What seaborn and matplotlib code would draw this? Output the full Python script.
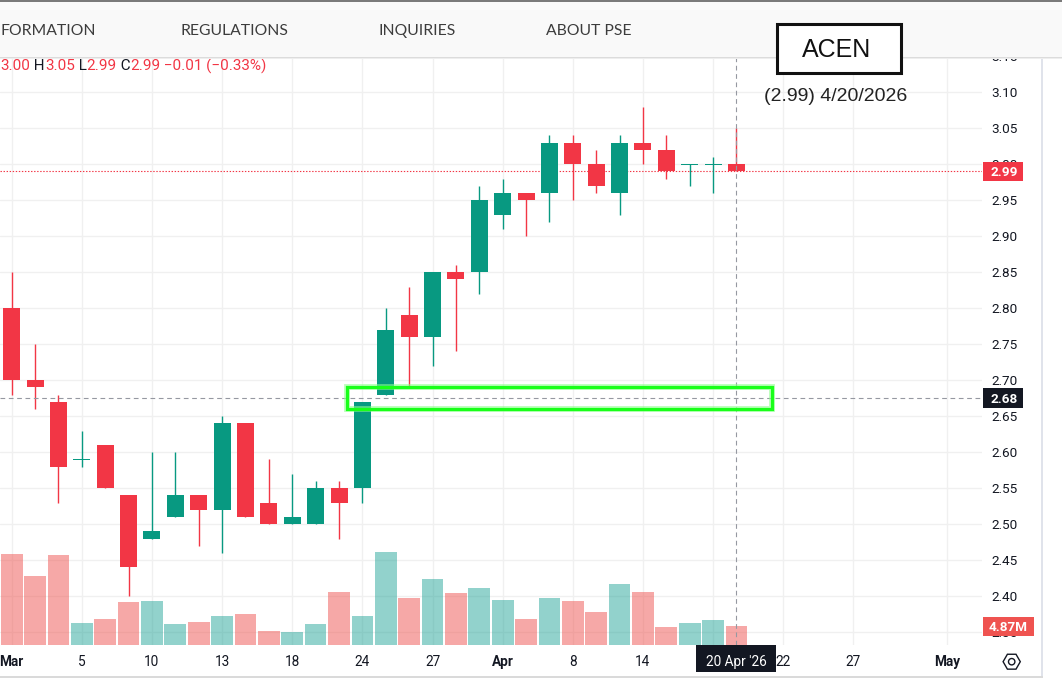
import matplotlib
matplotlib.use("Agg")
import matplotlib.pyplot as plt
import matplotlib.patches as mpatches
import numpy as np
import pandas as pd
import seaborn as sns

# ---------------- data ----------------
dates = ["2026-03-02", "2026-03-03", "2026-03-04", "2026-03-05", "2026-03-06",
         "2026-03-09", "2026-03-10", "2026-03-11", "2026-03-12", "2026-03-13",
         "2026-03-16", "2026-03-17", "2026-03-18", "2026-03-19", "2026-03-23",
         "2026-03-24", "2026-03-25", "2026-03-26", "2026-03-27", "2026-03-30",
         "2026-03-31", "2026-04-01", "2026-04-06", "2026-04-07", "2026-04-08",
         "2026-04-10", "2026-04-13", "2026-04-14", "2026-04-15", "2026-04-16",
         "2026-04-17", "2026-04-20"]
opens = [2.80, 2.70, 2.67, 2.59, 2.61, 2.54, 2.48, 2.51, 2.54, 2.52, 2.64, 2.53,
         2.50, 2.50, 2.55, 2.55, 2.68, 2.79, 2.76, 2.85, 2.85, 2.93, 2.96, 2.96,
         3.03, 3.00, 2.96, 3.03, 3.02, 3.00, 3.00, 3.00]
highs = [2.85, 2.75, 2.68, 2.63, 2.61, 2.54, 2.60, 2.60, 2.54, 2.65, 2.64, 2.59,
         2.57, 2.56, 2.56, 2.67, 2.80, 2.83, 2.85, 2.86, 2.97, 2.98, 2.96, 3.04,
         3.04, 3.02, 3.04, 3.08, 3.04, 3.00, 3.01, 3.05]
lows = [2.68, 2.66, 2.53, 2.58, 2.55, 2.40, 2.48, 2.51, 2.47, 2.46, 2.51, 2.50,
        2.50, 2.50, 2.48, 2.53, 2.68, 2.69, 2.72, 2.74, 2.82, 2.91, 2.90, 2.92,
        2.95, 2.96, 2.93, 3.00, 2.98, 2.97, 2.96, 2.99]
closes = [2.70, 2.69, 2.58, 2.59, 2.55, 2.44, 2.49, 2.54, 2.52, 2.64, 2.51, 2.50,
          2.51, 2.55, 2.53, 2.67, 2.77, 2.76, 2.85, 2.84, 2.95, 2.96, 2.95, 3.03,
          3.00, 2.97, 3.03, 3.02, 2.99, 3.00, 3.00, 2.99]
volume_m = [23.6, 18.1, 23.4, 5.65, 6.7, 11.1, 11.4, 5.4, 5.9, 7.5, 8.0, 3.6,
            3.3, 5.4, 13.7, 7.5, 24.1, 12.2, 17.1, 13.5, 14.8, 11.6, 6.7, 12.2,
            11.4, 8.5, 15.8, 13.7, 4.6, 5.65, 6.4, 4.87]

# gridline positions (bar index); the label at index 30 is hidden by the crosshair date box
x_grid_idx = [0, 3, 6, 9, 12, 15, 18, 21, 24, 27, 30, 33, 36, 40]
x_tick_idx = [0, 3, 6, 9, 12, 15, 18, 21, 24, 27, 33, 36, 40]
x_tick_labels = ["Mar", "5", "10", "13", "18", "24", "27", "Apr", "8", "14",
                 "22", "27", "May"]
month_labels = ["Mar", "Apr", "May"]
y_ticks = [2.35, 2.40, 2.45, 2.50, 2.55, 2.60, 2.65, 2.70, 2.75, 2.80, 2.85,
           2.90, 2.95, 3.00, 3.05, 3.10, 3.15]

symbol = "ACEN"
subtitle = "(2.99) 4/20/2026"
nav_items = ["FORMATION", "REGULATIONS", "INQUIRIES", "ABOUT PSE"]
last_price = 2.99
last_volume_label = "4.87M"
crosshair_idx = 31
crosshair_price = 2.676
crosshair_price_label = "2.68"
crosshair_date_label = "20 Apr '26"
zone_low, zone_high = 2.66, 2.69
zone_x0, zone_x1 = 14.35, 32.51
legend_parts = [("3.00", "r"), (" H", "k"), ("3.05", "r"),
                (" L", "k"), ("2.99", "r"), (" C", "k"), ("2.99", "r"),
                (" \u22120.01 (\u22120.33%)", "r")]

# ---------------- style ----------------
W, H = 1062, 687
UP, DOWN = "#089981", "#f23645"
VOL_UP, VOL_DOWN = "#26a69a", "#ef5350"
TXT = "#131722"
GRID = "#f0f0f0"

sns.set_theme(style="white")
plt.rcParams["font.family"] = ["Roboto", "DejaVu Sans"]
plt.rcParams["lines.scale_dashes"] = False

df = pd.DataFrame({"date": pd.to_datetime(dates), "open": opens, "high": highs,
                   "low": lows, "close": closes, "volume": volume_m})
df["idx"] = np.arange(len(df))
df["dir"] = np.where(df["close"] >= df["open"], "up", "down")
cmap = {"up": UP, "down": DOWN}
colors = df["dir"].map(cmap).tolist()

fig = plt.figure(figsize=(W / 100, H / 100), dpi=100, facecolor="white")


def fx(px):
    return px / W


def fy(py):
    return 1 - py / H


PLOT_BOTTOM = 645.0
PLOT_RIGHT = 981.7
rect = [0, fy(PLOT_BOTTOM), fx(PLOT_RIGHT), PLOT_BOTTOM / H]
XLIM = (-0.5004, 41.49)
YLIM = (2.33236, 3.22819)

ax_bg = fig.add_axes(rect, zorder=0)
ax_vol = fig.add_axes(rect, zorder=1)
ax = fig.add_axes(rect, zorder=2)

# background grid
ax_bg.set_facecolor("white")
ax_bg.set_xlim(*XLIM)
ax_bg.set_ylim(*YLIM)
ax_bg.set_xticks(x_grid_idx)
ax_bg.set_yticks(y_ticks)
ax_bg.grid(True, color=GRID, lw=1.0)
ax_bg.tick_params(length=0, labelbottom=False, labelleft=False)
for s in ax_bg.spines.values():
    s.set_visible(False)

# volume
sns.barplot(data=df, x="idx", y="volume", hue="dir",
            palette={"up": VOL_UP, "down": VOL_DOWN}, native_scale=True,
            dodge=False, width=0.93, alpha=0.5, saturation=1, linewidth=0,
            errorbar=None, legend=False, ax=ax_vol)
ax_vol.set_xlim(*XLIM)
ax_vol.set_ylim(0, 168.0)
ax_vol.set_axis_off()

# candles
ax.set_facecolor("none")
ax.vlines(df["idx"], df["low"], df["high"], colors=colors, lw=1.0, zorder=3)
min_h = 1.4 / 720
body_h = (df["close"] - df["open"]).abs()
draw_h = np.maximum(body_h, min_h)
body_lo = np.minimum(df["open"], df["close"]) - (draw_h - body_h) / 2
ax.bar(df["idx"], draw_h, bottom=body_lo, width=0.727, color=colors, lw=0,
       zorder=4)

# lines
ax.axhline(last_price, color=DOWN, lw=0.8, ls=(0, (1.0, 1.2)), zorder=2)
ax.axhline(crosshair_price, color="#9598a1", lw=0.8, ls=(0, (3.4, 2.6)), zorder=5)
ax.axvline(crosshair_idx, color="#9598a1", lw=0.8, ls=(0, (3.4, 2.6)), zorder=5)

# highlight zone
ax.add_patch(mpatches.Rectangle((zone_x0, zone_low), zone_x1 - zone_x0,
                                zone_high - zone_low, fill=False,
                                ec="#8cff8c", lw=4.2, alpha=0.6, zorder=6))
ax.add_patch(mpatches.Rectangle((zone_x0, zone_low), zone_x1 - zone_x0,
                                zone_high - zone_low, fill=False,
                                ec="#19ff19", lw=2.3, zorder=6.1))

ax.set_xlim(*XLIM)
ax.set_ylim(*YLIM)
ax.set_xticks([])
ax.yaxis.tick_right()
ax.set_yticks(y_ticks)
ax.set_yticklabels([f"{v:.2f}" for v in y_ticks])
ax.tick_params(axis="y", length=0, pad=6.7, labelsize=9.7, labelcolor=TXT)
for s in ax.spines.values():
    s.set_visible(False)

# x labels
xt = ax.get_xaxis_transform()
base_y = -(666 - PLOT_BOTTOM) / PLOT_BOTTOM
for i, lab in zip(x_tick_idx, x_tick_labels):
    ax.text(i, base_y, lab, transform=xt, ha="center", va="baseline",
            fontsize=9.8, color=TXT, clip_on=False,
            fontweight="bold" if lab in month_labels else "normal")


def ypix(p):
    return PLOT_BOTTOM - (p - YLIM[0]) / (YLIM[1] - YLIM[0]) * PLOT_BOTTOM


def fig_rect(x0, y0, x1, y1, fc, z, ec="none", lw=0):
    r = mpatches.Rectangle((fx(x0), fy(y1)), fx(x1) - fx(x0), fy(y0) - fy(y1),
                           transform=fig.transFigure, fc=fc, ec=ec, lw=lw,
                           zorder=z)
    fig.add_artist(r)
    return r


# axis value labels
yp = ypix(last_price)
fig_rect(983, yp - 9.5, 1023, yp + 9.5, DOWN, 12)
fig.text(fx(1004), fy(yp), f"{last_price:.2f}", color="white", fontsize=9.7,
         fontweight="bold", ha="center", va="center_baseline", zorder=13)

yc = ypix(crosshair_price)
fig_rect(983, yc - 10, 1023, yc + 10, TXT, 12)
fig.text(fx(1004), fy(yc), crosshair_price_label, color="white", fontsize=9.7,
         fontweight="bold", ha="center", va="center_baseline", zorder=13)

yv = PLOT_BOTTOM - volume_m[-1] / 168.0 * PLOT_BOTTOM
fig_rect(983, yv - 9.5, 1034, yv + 9.5, VOL_DOWN, 12)
fig.text(fx(1008.5), fy(yv), last_volume_label, color="white", fontsize=9.7,
         fontweight="bold", ha="center", va="center_baseline", zorder=13)

xpix_cross = (crosshair_idx - XLIM[0]) / (XLIM[1] - XLIM[0]) * PLOT_RIGHT
fig_rect(xpix_cross - 40, 645, xpix_cross + 40, 672, TXT, 12)
fig.text(fx(xpix_cross), fy(666), crosshair_date_label, color="white",
         fontsize=9.8, ha="center", va="baseline", zorder=13)

# borders
fig_rect(1041, 57, 1042.5, 677.5, "#e0e3eb", 11)
fig_rect(0, 676, 1042.5, 678, "#dadada", 11)

# settings icon
cx, cy, rr = 1011.7, 661.7, 8.6
hexv = [(fx(cx + rr * np.cos(a)), fy(cy + rr * np.sin(a)))
        for a in np.deg2rad(np.arange(0, 360, 60))]
fig.add_artist(mpatches.Polygon(hexv, closed=True, fill=False, ec=TXT, lw=1.0,
                                transform=fig.transFigure, zorder=12))
fig.add_artist(mpatches.Ellipse((fx(cx), fy(cy)), 6.4 / W, 6.4 / H, fill=False,
                                ec=TXT, lw=1.0, transform=fig.transFigure,
                                zorder=12))

# OHLC legend line
renderer = fig.canvas.get_renderer()
xcur = 0.5
for s, c in legend_parts:
    t = fig.text(fx(xcur), fy(70.5), s, color=TXT if c == "k" else DOWN,
                 fontsize=11, va="baseline", ha="left", zorder=8)
    xcur += t.get_window_extent(renderer).width

# header band
fig_rect(0, 0, W, 57, "#f9f9f9", 20)
fig_rect(0, 0, W, 2, "#7a7a7a", 21)
for k, col in enumerate(["#dcdcdc", "#eeeeee"]):
    fig_rect(0, 57 + k, W, 58 + k, col, 19)
nav_x = [0, 181, 378, 545.5]
for xx, s in zip(nav_x, nav_items):
    fig.text(fx(xx), fy(35), s, family=["Lato", "DejaVu Sans"], fontsize=11.3,
             color="#3c3c3c", ha="left", va="baseline", zorder=22)

# title box
fig_rect(777, 24, 901, 73, "white", 30, ec="#111111", lw=2.2)
fig.text(fx(837), fy(57.3), symbol, family=["Liberation Sans", "DejaVu Sans"],
         fontsize=18, color="#111111", ha="center", va="baseline", zorder=31)
fig.text(fx(835.5), fy(100.7), subtitle, family=["Liberation Sans", "DejaVu Sans"],
         fontsize=14, color="#222222", ha="center", va="baseline", zorder=31)

fig.savefig("out.png", dpi=100, facecolor="white")
